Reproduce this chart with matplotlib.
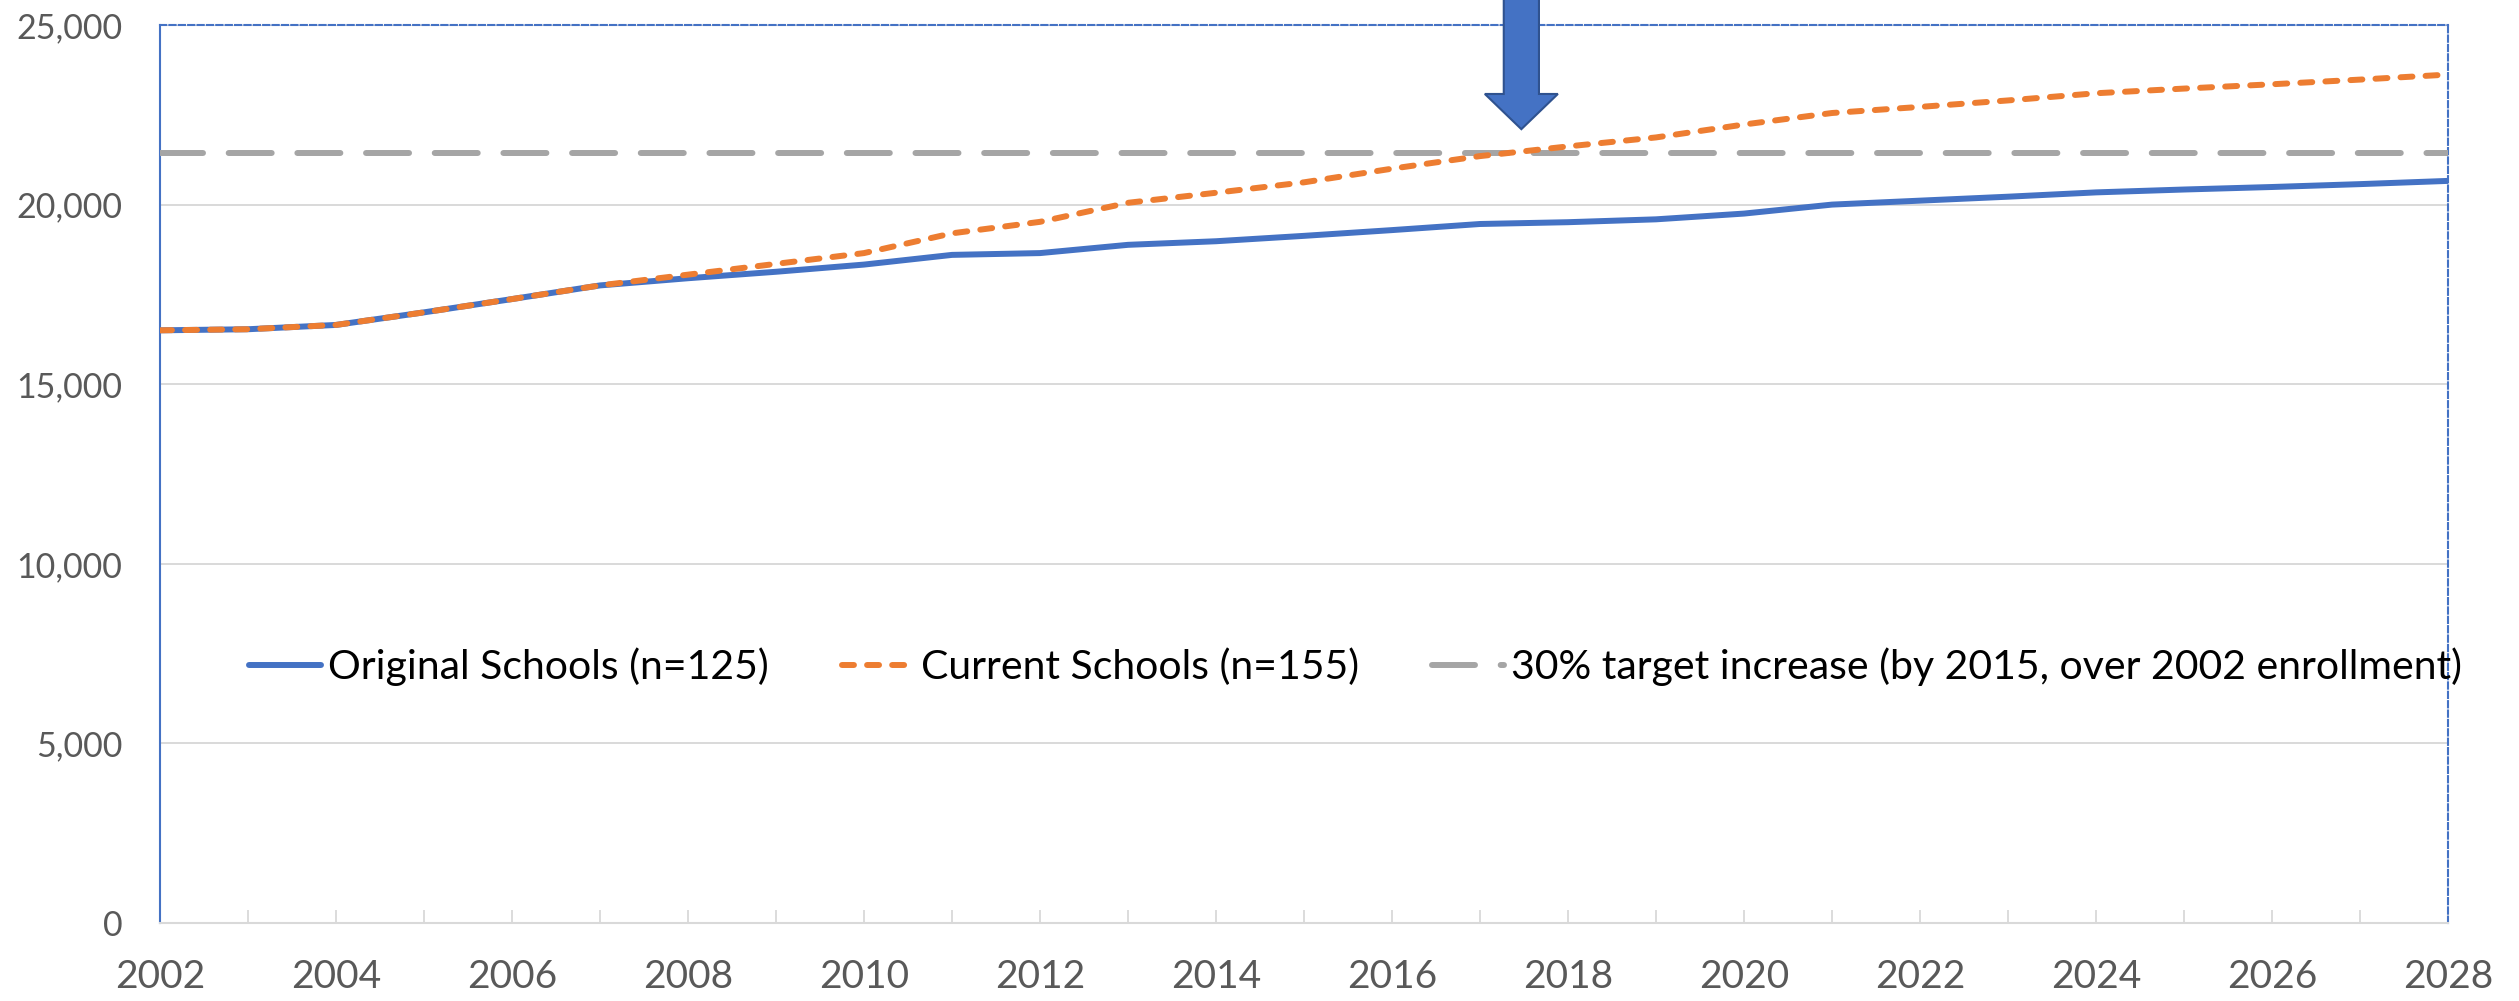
import matplotlib.pyplot as plt
import matplotlib as mpl
from matplotlib.patches import FancyArrow
from matplotlib.ticker import FuncFormatter, MultipleLocator

years = list(range(2002, 2029))
original = [16500, 16530, 16650, 17000, 17370, 17750, 17950, 18130, 18330, 18600,
            18650, 18880, 18980, 19130, 19290, 19460, 19510, 19590, 19750, 20000,
            20110, 20220, 20340, 20420, 20490, 20570, 20660]
current = [16500, 16530, 16650, 17000, 17370, 17750, 18050, 18350, 18650, 19200,
           19520, 20050, 20330, 20620, 21000, 21350, 21620, 21870, 22230, 22550,
           22720, 22900, 23100, 23230, 23350, 23480, 23620]
target = 21450  # 30% over 2002 enrollment

labels = ['Original Schools (n=125)', 'Current Schools (n=155)',
          '30% target increase (by 2015, over 2002 enrollment)']

blue = '#4472C4'
orange = '#ED7D31'
gray = '#A5A5A5'
grid = '#D9D9D9'

mpl.rcParams['font.family'] = ['Lato', 'DejaVu Sans']

fig = plt.figure(figsize=(25.19, 10.01), dpi=100)
ax = fig.add_axes([160 / 2519, 78 / 1001, 2288 / 2519, 898 / 1001])

ax.plot(years, original, color=blue, lw=4.3, solid_capstyle='round', label=labels[0], zorder=3)
ax.plot([years[0], years[-1]], [target, target], color=gray, lw=4.3,
        dashes=(7.2, 4.3), dash_capstyle='round', label=labels[2], zorder=3)
ax.plot(years, current, color=orange, lw=4.3, dashes=(2, 2.2),
        dash_capstyle='round', label=labels[1], zorder=4)

ax.set_xlim(2002, 2028)
ax.set_ylim(0, 25000)
ax.xaxis.set_major_locator(MultipleLocator(2))
ax.xaxis.set_minor_locator(MultipleLocator(1))
ax.yaxis.set_major_locator(MultipleLocator(5000))
ax.yaxis.set_major_formatter(FuncFormatter(lambda v, p: f'{int(v):,}'))
ax.grid(axis='y', color=grid, lw=1.4, zorder=0)
ax.set_axisbelow(True)

ax.tick_params(axis='x', which='both', direction='in', length=9.5, width=1.3,
               color=grid, labelsize=28, labelcolor='#595959', pad=26)
ax.tick_params(axis='y', length=0, labelsize=24.5, labelcolor='#595959', pad=27)

ax.spines['left'].set_color(blue)
ax.spines['left'].set_linewidth(1.5)
for s in ('top', 'right'):
    ax.spines[s].set_color(blue)
    ax.spines[s].set_linewidth(1.5)
    ax.spines[s].set_linestyle((0, (3, 1.5)))
ax.spines['bottom'].set_color(grid)
ax.spines['bottom'].set_linewidth(1.5)

h, l = ax.get_legend_handles_labels()
order = [0, 2, 1]
ax.legend([h[i] for i in order], [l[i] for i in order], loc='center left',
          bbox_to_anchor=(0.039, 0.285), frameon=False, ncol=3, fontsize=29.5,
          handlelength=1.76, handletextpad=0.17, columnspacing=1.78,
          borderpad=0, borderaxespad=0)

# arrow pointing at where current schools cross the target
arrow_x = 2017.47
arrow_tip = 22100
ax.add_patch(FancyArrow(arrow_x, 26500, 0, arrow_tip - 26500, width=0.4,
                        head_width=0.83, head_length=980, length_includes_head=True,
                        facecolor=blue, edgecolor='#2F528F', lw=1.5, clip_on=False, zorder=6))

fig.savefig('out.png', dpi=100)
